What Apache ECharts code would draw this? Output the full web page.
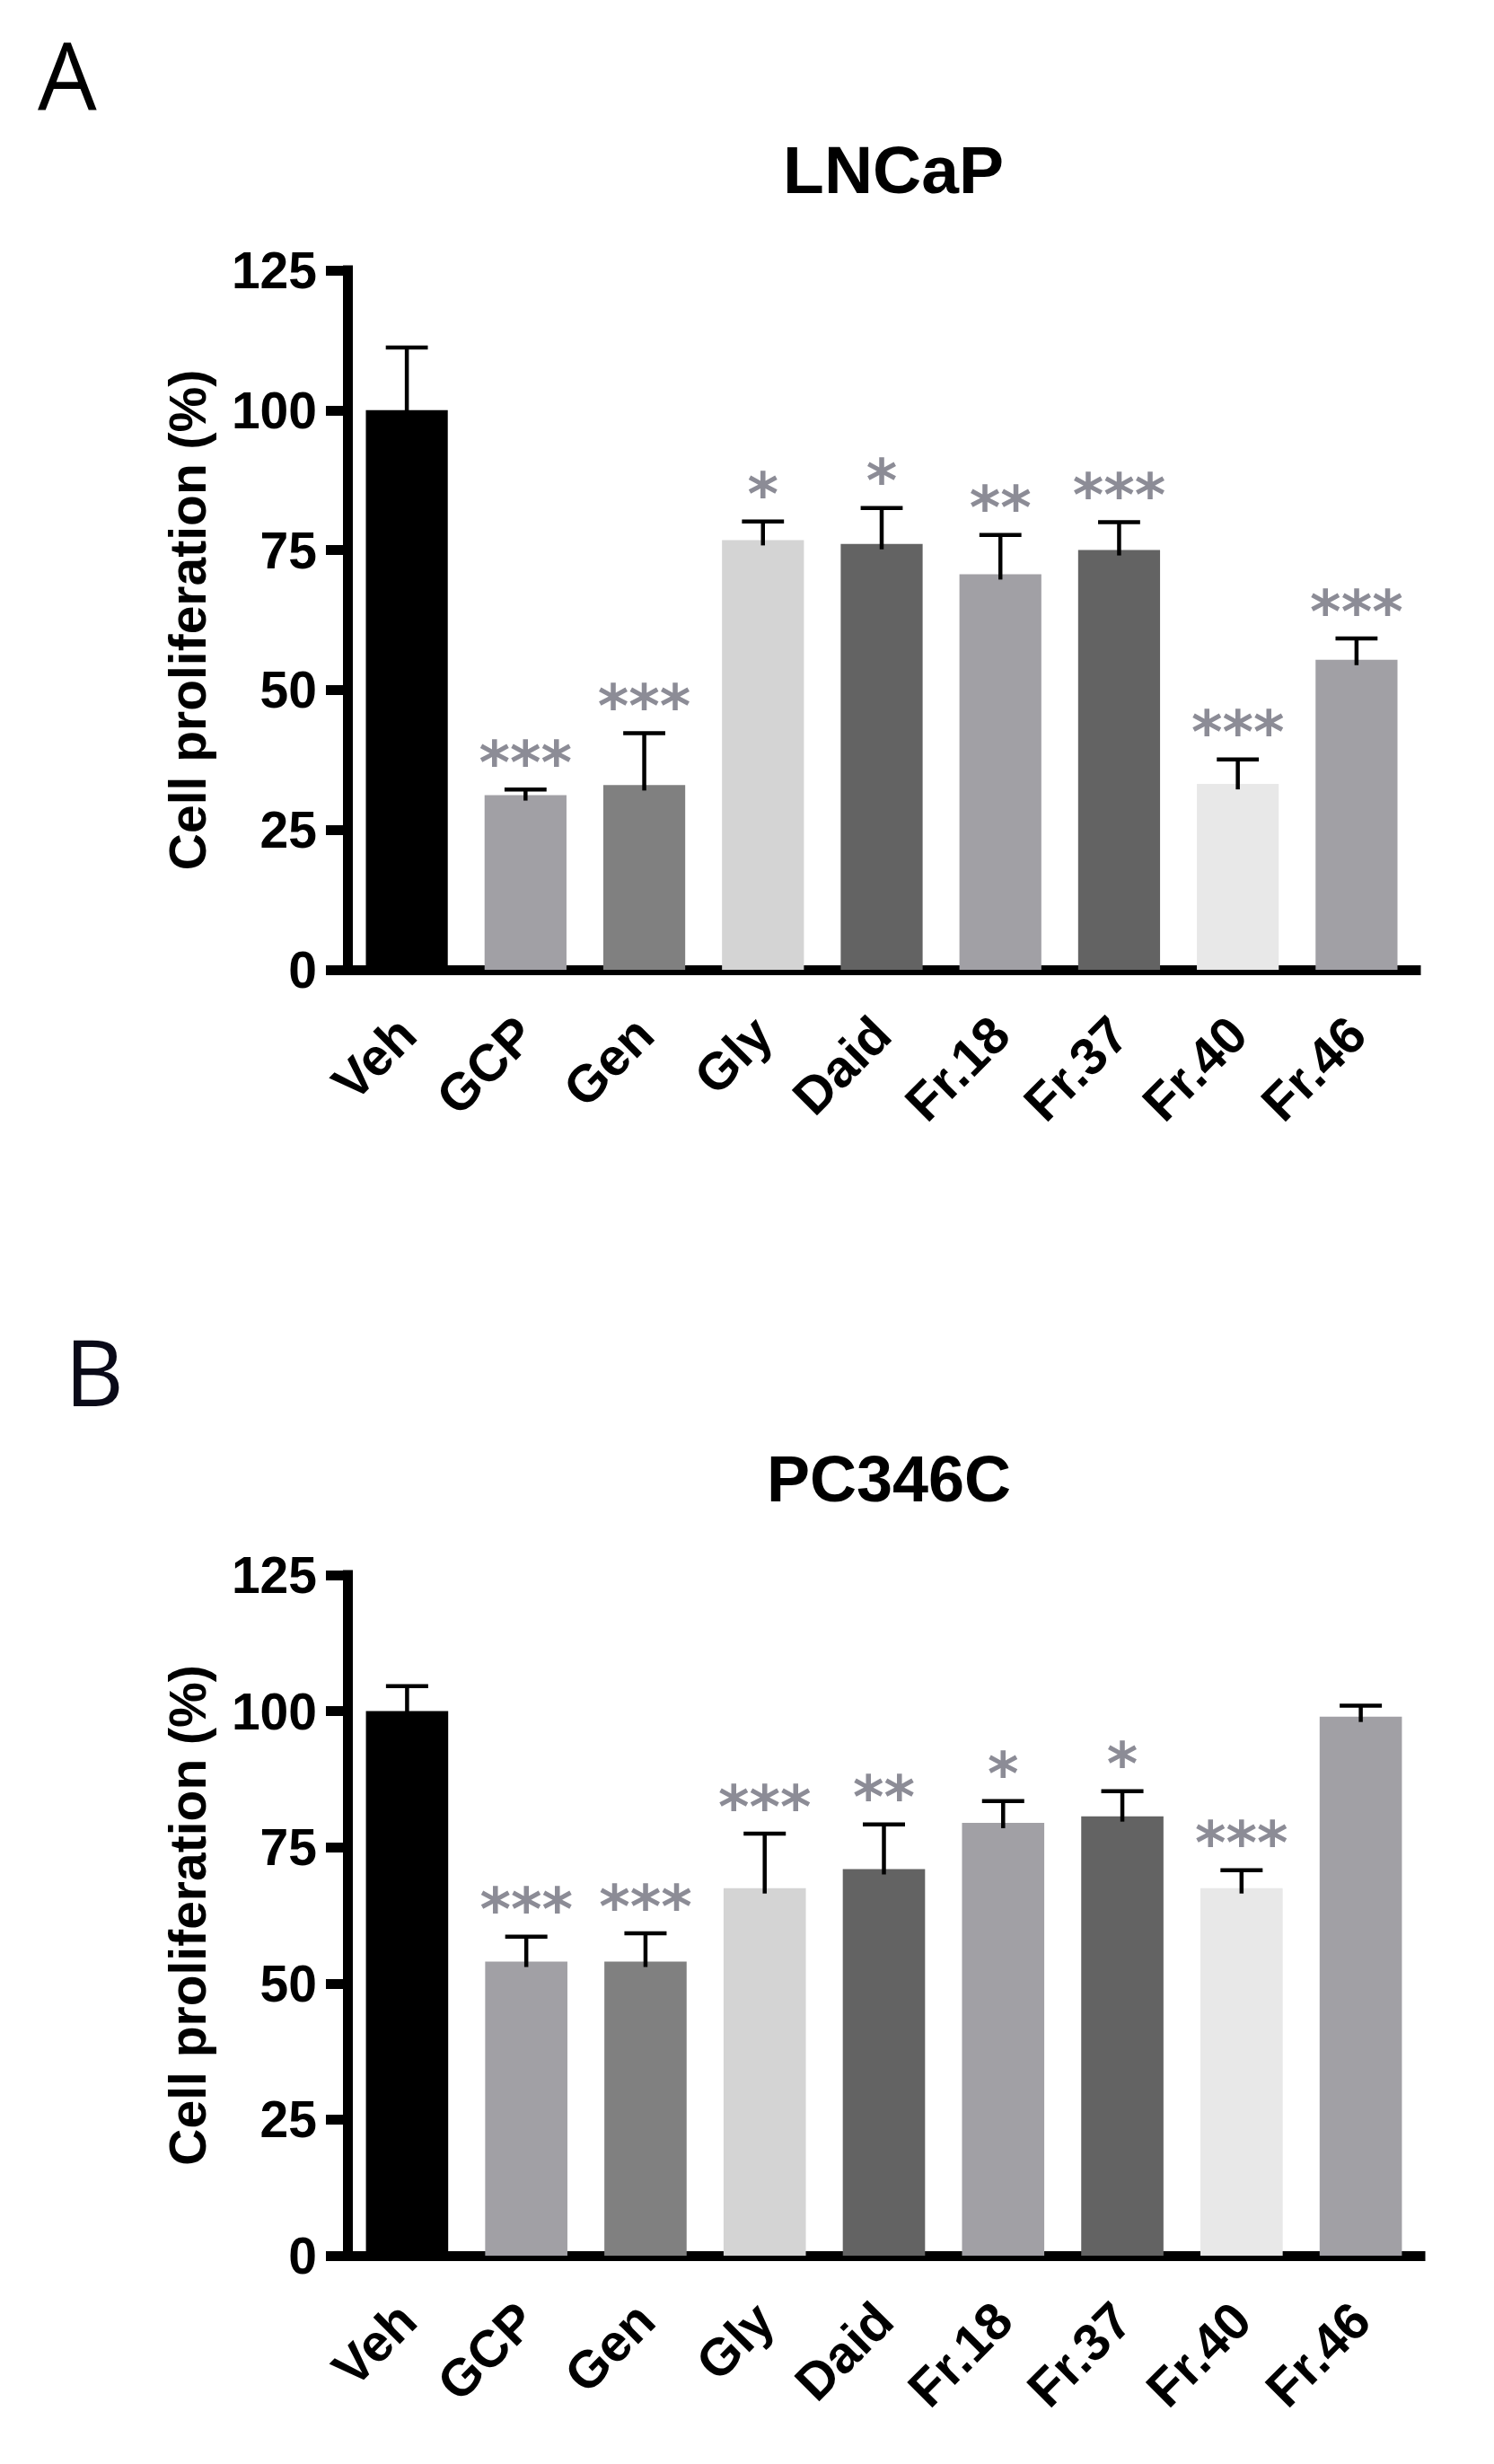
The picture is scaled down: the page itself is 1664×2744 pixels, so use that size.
<!DOCTYPE html>
<html>
<head>
<meta charset="utf-8">
<title>LNCaP / PC346C proliferation</title>
<script src="https://cdn.jsdelivr.net/npm/echarts@6/dist/echarts.min.js"></script>
<style>
  html, body { margin: 0; padding: 0; background: #fff; }
  #main { width: 1664px; height: 2744px; }
</style>
</head>
<body>
<div id="main"></div>
<script>
// categories shared by both panels
var categories = ['Veh', 'GCP', 'Gen', 'Gly', 'Daid', 'Fr.18', 'Fr.37', 'Fr.40', 'Fr.46'];
var barColors = ['#000000', '#a1a0a5', '#808080', '#d4d4d4', '#636363', '#a1a0a5', '#636363', '#e8e8e8', '#a1a0a5'];

// panel A - LNCaP
var lncapMean = [100, 31.2, 33, 76.8, 76.1, 70.7, 75, 33.2, 55.4];
var lncapErr  = [11.2, 1, 9.3, 3.3, 6.4, 7, 5, 4.4, 3.8];
var lncapStars = ['', '***', '***', '*', '*', '**', '***', '***', '***'];

// panel B - PC346C
var pcMean = [100, 54, 54, 67.5, 71, 79.5, 80.7, 67.5, 99];
var pcErr  = [4.6, 4.6, 5.2, 10, 8.2, 4, 4.6, 3.3, 2];
var pcStars = ['', '***', '***', '***', '**', '*', '*', '***', ''];

var yTicks = [0, 25, 50, 75, 100, 125];

var FONT = 'Liberation Sans, Arial, sans-serif';

var myChart = echarts.init(document.getElementById('main'), null, {renderer: 'svg'});

function barData(values) {
    return values.map(function (v, i) {
        return { value: v, itemStyle: { color: barColors[i] } };
    });
}

function errData(values, errs) {
    return values.map(function (v, i) { return [i, v, errs[i]]; });
}

// error bar (upper only) + significance stars
function makeErrRender(stars) {
    return function (params, api) {
        var idx = api.value(0);
        var base = api.coord([idx, api.value(1)]);
        var top = api.coord([idx, api.value(1) + api.value(2)]);
        var band = api.size([1, 0])[0];
        var half = band * 0.177;
        var children = [{
            type: 'line',
            shape: { x1: base[0], y1: base[1] + 6, x2: top[0], y2: top[1] },
            style: { stroke: '#000', lineWidth: 4.5 }
        }, {
            type: 'line',
            shape: { x1: top[0] - half, y1: top[1], x2: top[0] + half, y2: top[1] },
            style: { stroke: '#000', lineWidth: 4.5 }
        }];
        var s = stars[params.dataIndex];
        if (s) {
            children.push({
                type: 'text',
                x: top[0],
                y: top[1] - 30,
                style: {
                    text: s,
                    fill: '#8c8c96',
                    font: 'bold 66px "DejaVu Sans"',
                    align: 'center',
                    verticalAlign: 'middle'
                }
            });
        }
        return { type: 'group', children: children };
    };
}

function xAxisOpt(gi) {
    return {
        type: 'category',
        gridIndex: gi,
        data: categories,
        axisLine: { lineStyle: { color: '#000', width: 11, cap: 'square' } },
        axisTick: { alignWithLabel: true, length: 21, lineStyle: { color: '#000', width: 11 } },
        axisLabel: {
            interval: 0,
            rotate: 45,
            margin: 62,
            color: '#000',
            fontSize: 58,
            fontWeight: 'bold',
            fontFamily: FONT
        },
        splitLine: { show: false }
    };
}

function yAxisOpt(gi) {
    return {
        type: 'value',
        gridIndex: gi,
        min: yTicks[0],
        max: yTicks[yTicks.length - 1],
        interval: 25,
        name: 'Cell proliferation (%)',
        nameLocation: 'middle',
        nameGap: 150,
        nameTextStyle: { color: '#000', fontSize: 57, fontWeight: 'bold', fontFamily: FONT },
        axisLine: { show: true, lineStyle: { color: '#000', width: 11, cap: 'square' } },
        axisTick: { show: true, length: 24, lineStyle: { color: '#000', width: 11 } },
        axisLabel: { margin: 34, color: '#000', fontSize: 57, fontWeight: 'bold', fontFamily: FONT },
        splitLine: { show: false }
    };
}

var option = {
    backgroundColor: '#fff',
    animation: false,
    title: [{
        text: 'LNCaP', left: 995, top: 147, padding: 0, textAlign: 'center',
        textStyle: { fontSize: 75, fontWeight: 'bold', fontFamily: FONT, color: '#000', lineHeight: 84 }
    }, {
        text: 'PC346C', left: 990, top: 1605, padding: 0, textAlign: 'center',
        textStyle: { fontSize: 72, fontWeight: 'bold', fontFamily: FONT, color: '#000', lineHeight: 84 }
    }, {
        text: 'A', left: 42, top: 22, padding: 0,
        textStyle: { fontSize: 104, fontWeight: 'normal', fontFamily: 'Open Sans', color: '#000', lineHeight: 120 }
    }, {
        text: 'B', left: 72, top: 1466, padding: 0,
        textStyle: { fontSize: 102, fontWeight: 'normal', fontFamily: 'Open Sans', color: '#0a0a18', lineHeight: 120 }
    }],
    grid: [
        { left: 387, top: 301, width: 1190, height: 779 },
        { left: 387, top: 1754, width: 1195, height: 758 }
    ],
    xAxis: [xAxisOpt(0), xAxisOpt(1)],
    yAxis: [yAxisOpt(0), yAxisOpt(1)],
    series: [{
        type: 'bar',
        name: 'LNCaP',
        xAxisIndex: 0, yAxisIndex: 0,
        barWidth: '69%',
        data: barData(lncapMean)
    }, {
        type: 'custom',
        name: 'LNCaP SEM',
        xAxisIndex: 0, yAxisIndex: 0,
        z: 5,
        renderItem: makeErrRender(lncapStars),
        data: errData(lncapMean, lncapErr)
    }, {
        type: 'bar',
        name: 'PC346C',
        xAxisIndex: 1, yAxisIndex: 1,
        barWidth: '69%',
        data: barData(pcMean)
    }, {
        type: 'custom',
        name: 'PC346C SEM',
        xAxisIndex: 1, yAxisIndex: 1,
        z: 5,
        renderItem: makeErrRender(pcStars),
        data: errData(pcMean, pcErr)
    }]
};
myChart.setOption(option);
</script>
</body>
</html>
